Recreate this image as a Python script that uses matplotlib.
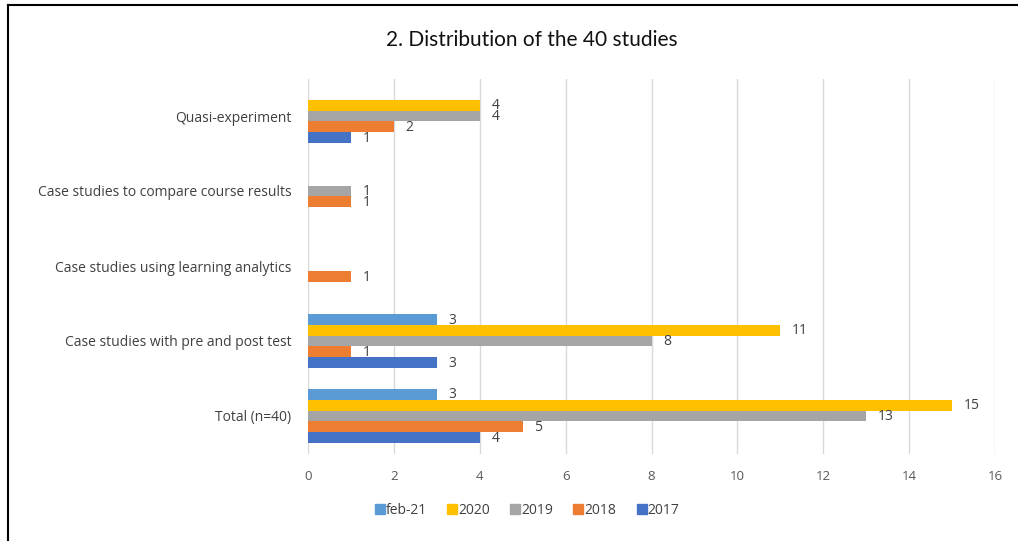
import matplotlib
matplotlib.use("Agg")
import matplotlib.pyplot as plt
from matplotlib.lines import Line2D
import numpy as np

categories = [
    "Total (n=40)",
    "Case studies with pre and post test",
    "Case studies using learning analytics",
    "Case studies to compare course results",
    "Quasi-experiment",
]
series_names = ["2017", "2018", "2019", "2020", "feb-21"]
values_2017 = [4, 3, 0, 0, 1]
values_2018 = [5, 1, 1, 1, 2]
values_2019 = [13, 8, 0, 1, 4]
values_2020 = [15, 11, 0, 0, 4]
values_feb21 = [3, 3, 0, 0, 0]
x_ticks = [0, 2, 4, 6, 8, 10, 12, 14, 16]

series_values = [values_2017, values_2018, values_2019, values_2020, values_feb21]
colors = ["#4472C4", "#ED7D31", "#A5A5A5", "#FFC000", "#5B9BD5"]

plt.rcParams["font.family"] = ["Open Sans", "DejaVu Sans"]

fig = plt.figure(figsize=(10.18, 5.41), dpi=100)
ax = fig.add_axes([308 / 1018, 1 - 453.5 / 541, 687 / 1018, 375 / 541])

y = np.arange(len(categories))
bar_h = 0.145
offsets = (np.arange(len(series_names)) - 2) * bar_h

for vals, off, col in zip(series_values, offsets, colors):
    ax.barh(y + off, vals, height=bar_h, color=col, zorder=3)
    for yy, v in zip(y + off, vals):
        if v > 0:
            ax.text(v + 0.27, yy - 0.01, str(v), va="center", ha="left",
                    fontsize=10, color="#404040", zorder=4)

ax.set_xlim(0, 16)
ax.set_ylim(-0.5, len(categories) - 0.5)
ax.set_xticks(x_ticks)
ax.set_xticklabels([str(t) for t in x_ticks], fontsize=9.5, color="#595959")
ax.set_yticks(y)
ax.set_yticklabels(categories, fontsize=10, color="#404040")
ax.tick_params(axis="both", length=0)
ax.tick_params(axis="x", pad=12)
ax.tick_params(axis="y", pad=12)
ax.grid(axis="x", color="#D9D9D9", linewidth=1, zorder=0)
for s in ax.spines.values():
    s.set_visible(False)

fig.text(532 / 1018, 1 - 40 / 541, "2. Distribution of the 40 studies", ha="center",
         va="center", fontsize=15, color="#111111", family=["Lato", "DejaVu Sans"])

handles = [Line2D([0], [0], marker="s", linestyle="", markersize=6.5,
                  markerfacecolor=c, markeredgecolor=c)
           for c in reversed(colors)]
fig.legend(handles, list(reversed(series_names)), loc="center",
           bbox_to_anchor=(527 / 1018, 1 - 510 / 541), ncol=5, frameon=False,
           fontsize=10, handletextpad=0.05, columnspacing=1.4,
           labelcolor="#404040", handlelength=0.8)

# outer frame: left and top edges
fig.add_artist(Line2D([8 / 1018, 8 / 1018], [0, 1 - 5 / 541],
                      transform=fig.transFigure, color="black", linewidth=1.5))
fig.add_artist(Line2D([8 / 1018, 1], [1 - 5 / 541, 1 - 5 / 541],
                      transform=fig.transFigure, color="black", linewidth=1.5))

fig.savefig("out.png", dpi=100)
